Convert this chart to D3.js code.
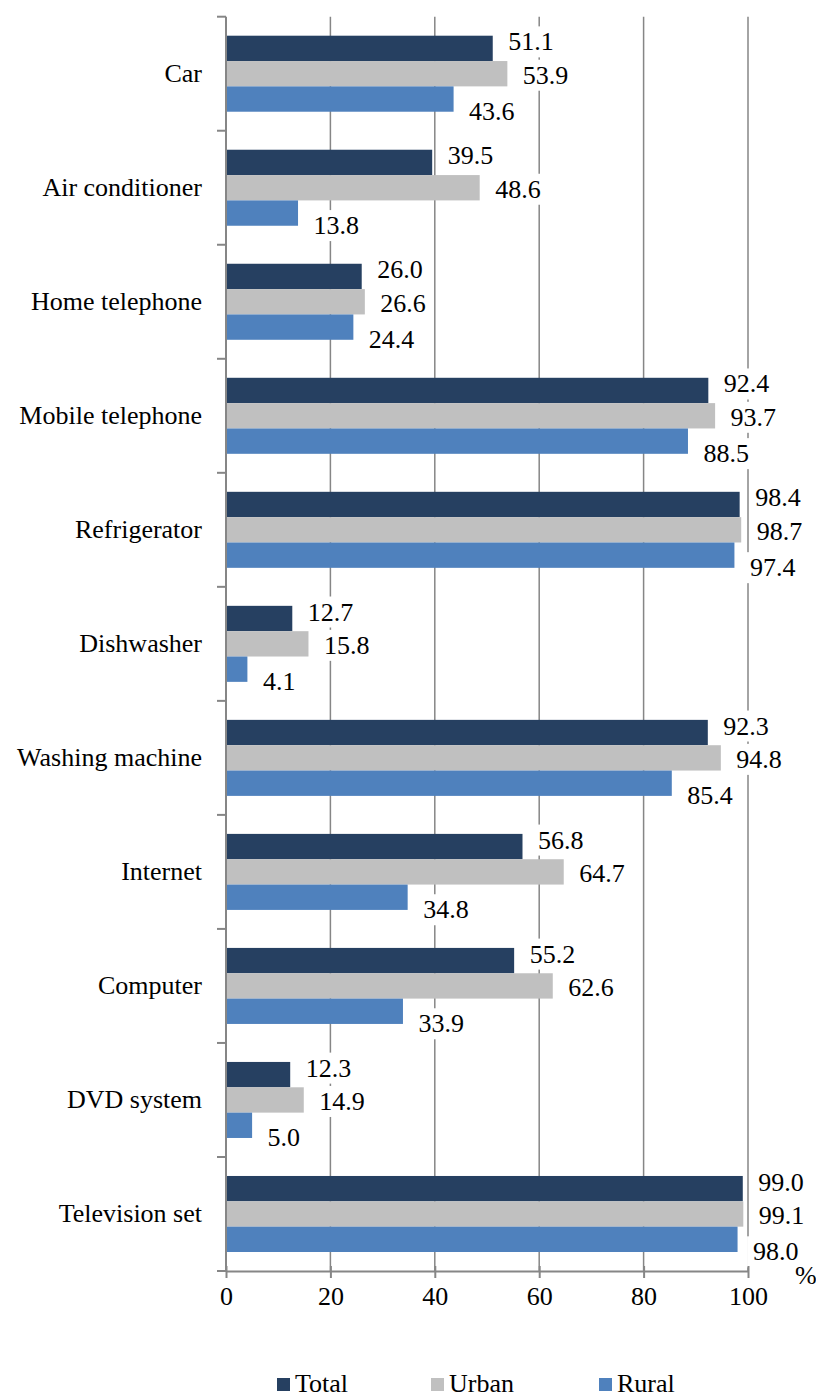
<!DOCTYPE html>
<html>
<head>
<meta charset="utf-8">
<script src="https://cdn.jsdelivr.net/npm/d3@7"></script>
<style>
  html, body { margin: 0; padding: 0; background: #fff; }
  svg { display: block; }
  svg text { font-family: "Liberation Serif", "Tinos", "Times New Roman", "DejaVu Serif", "Noto Serif", serif; fill: #000; }
</style>
</head>
<body>
<svg id="chart" width="816" height="1396"></svg>
<script>
// Household equipment, share of households (%)
const categories = [
  "Car", "Air conditioner", "Home telephone", "Mobile telephone",
  "Refrigerator", "Dishwasher", "Washing machine", "Internet",
  "Computer", "DVD system", "Television set"
];
const seriesNames = ["Total", "Urban", "Rural"];
const totalValues = [51.1, 39.5, 26.0, 92.4, 98.4, 12.7, 92.3, 56.8, 55.2, 12.3, 99.0];
const urbanValues = [53.9, 48.6, 26.6, 93.7, 98.7, 15.8, 94.8, 64.7, 62.6, 14.9, 99.1];
const ruralValues = [43.6, 13.8, 24.4, 88.5, 97.4, 4.1, 85.4, 34.8, 33.9, 5.0, 98.0];
const xTicks = [0, 20, 40, 60, 80, 100];
const colors = ["#264061", "#C0C0C0", "#4F81BD"];

const seriesValues = [totalValues, urbanValues, ruralValues];
const rows = categories.map((c, i) => ({
  category: c,
  values: seriesNames.map((s, j) => ({ series: s, value: seriesValues[j][i], idx: j }))
}));

const FONT = '"Liberation Serif", "Tinos", "Times New Roman", "DejaVu Serif", "Noto Serif", serif';
const svg = d3.select("#chart").attr("font-family", FONT);
const gridColor = "#868686";
const fontSize = 26;

const plot = { left: 226, right: 748, top: 16.7, bottom: 1271 };

const x = d3.scaleLinear().domain([0, 100]).range([plot.left, plot.right]);
const y0 = d3.scaleBand().domain(categories).range([plot.top, plot.bottom]).padding(0);
const pad = y0.bandwidth() / 6;
const y1 = d3.scaleBand().domain(seriesNames).range([pad, y0.bandwidth() - pad]).padding(0);

// vertical gridlines
svg.append("g")
  .selectAll("line")
  .data(xTicks.filter(d => d > 0))
  .join("line")
  .attr("x1", d => x(d)).attr("x2", d => x(d))
  .attr("y1", plot.top).attr("y2", plot.bottom)
  .attr("stroke", gridColor).attr("stroke-width", 1.5);

// bars
const groups = svg.append("g")
  .selectAll("g")
  .data(rows)
  .join("g")
  .attr("transform", d => `translate(0,${y0(d.category)})`);

groups.selectAll("rect")
  .data(d => d.values)
  .join("rect")
  .attr("x", x(0))
  .attr("y", d => y1(d.series))
  .attr("width", d => x(d.value) - x(0))
  .attr("height", y1.bandwidth())
  .attr("fill", d => colors[d.idx]);

// value labels with white backing boxes
const labelShift = [2, 10, 21];
const labels = groups.selectAll("g.lbl")
  .data(d => d.values)
  .join("g")
  .attr("class", "lbl")
  .attr("transform", d => `translate(${x(d.value) + 15.5},${y1(d.series) + y1.bandwidth() / 2 + labelShift[d.idx]})`);

labels.append("rect")
  .attr("fill", "#fff");
labels.append("text")
  .attr("font-family", FONT)
  .attr("font-size", fontSize)
  .text(d => d3.format(".1f")(d.value));
labels.each(function () {
  const g = d3.select(this);
  const bb = g.select("text").node().getBBox();
  g.select("rect")
    .attr("x", bb.x - 6).attr("y", bb.y - 1)
    .attr("width", bb.width + 10).attr("height", bb.height + 2);
});

// y axis line with ticks at category boundaries
svg.append("line")
  .attr("x1", plot.left).attr("x2", plot.left)
  .attr("y1", plot.top).attr("y2", plot.bottom)
  .attr("stroke", gridColor).attr("stroke-width", 2);
const boundaries = categories.map(c => y0(c)).concat([plot.bottom]);
svg.append("g")
  .selectAll("line")
  .data(boundaries)
  .join("line")
  .attr("x1", plot.left - 9).attr("x2", plot.left)
  .attr("y1", d => d).attr("y2", d => d)
  .attr("stroke", gridColor).attr("stroke-width", 2);

// category labels
svg.append("g")
  .selectAll("text")
  .data(categories)
  .join("text")
  .attr("x", 202)
  .attr("y", d => y0(d) + y0.bandwidth() / 2)
  .attr("dy", "0.3em")
  .attr("text-anchor", "end")
  .attr("font-family", FONT)
  .attr("font-size", fontSize)
  .text(d => d);

// x axis
const xAxis = svg.append("g")
  .attr("transform", `translate(0,${plot.bottom})`)
  .call(d3.axisBottom(x).tickValues(xTicks).tickSizeInner(7).tickSizeOuter(0).tickPadding(9).tickFormat(d3.format("d")))
  .attr("font-family", FONT)
  .attr("font-size", fontSize);
xAxis.select(".domain").attr("stroke", gridColor).attr("stroke-width", 2);
xAxis.selectAll(".tick line").attr("stroke", gridColor).attr("stroke-width", 2).attr("y1", -5);
xAxis.selectAll(".tick text").attr("fill", "#000");

// unit
svg.append("text")
  .attr("x", 795).attr("y", 1284)
  .attr("font-family", FONT)
  .attr("font-size", fontSize)
  .text("%");

// legend
const legendX = [277, 431, 599];
const legend = svg.append("g")
  .selectAll("g")
  .data(seriesNames)
  .join("g")
  .attr("transform", (d, i) => `translate(${legendX[i]},1378)`);
legend.append("rect")
  .attr("width", 13).attr("height", 13)
  .attr("fill", (d, i) => colors[i]);
legend.append("text")
  .attr("x", 18).attr("y", 14)
  .attr("font-family", FONT)
  .attr("font-size", fontSize)
  .text(d => d);
</script>
</body>
</html>
